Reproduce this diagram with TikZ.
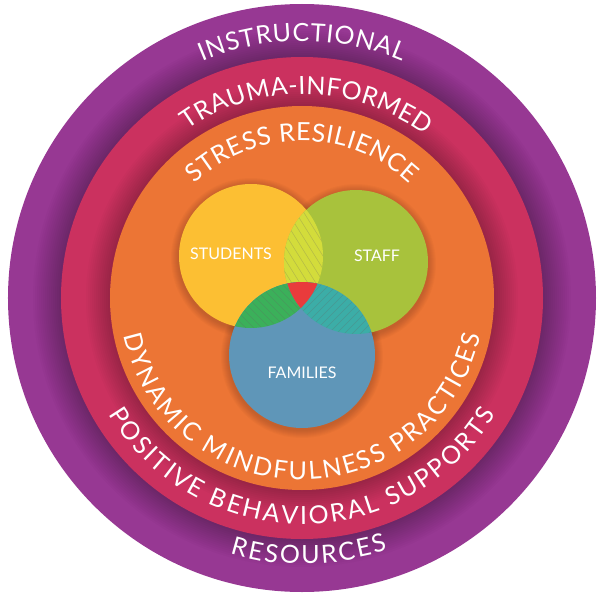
\documentclass[tikz,border=0pt]{standalone}
\usepackage{fontspec}
\setmainfont{Lato}
\newfontfamily\ringfont{Lato}
\definecolor{purpleL}{HTML}{973893}
\definecolor{redR}{HTML}{CB315F}
\definecolor{orangeO}{HTML}{EC7535}
\definecolor{yellowS}{HTML}{FCBF33}
\definecolor{greenT}{HTML}{A8C23C}
\definecolor{blueF}{HTML}{5F96B8}
\definecolor{ygO}{HTML}{D3DC3B}
\definecolor{greenO}{HTML}{3BB05A}
\definecolor{tealO}{HTML}{3CADA7}
\definecolor{redO}{HTML}{E93B3C}
\newcommand\toptext{\ringfont\fontsize{25}{30}\selectfont}
\newdimen\arcW
\newdimen\arcPos
\newdimen\chW
\newdimen\chMid
\newbox\chBox
% #1 name, #2 radius, #3 tracking (pt), #4 1=top -1=bottom, #5 characters
\newcommand\preparc[5]{%
  \global\arcW=0pt
  \foreach \ch in {#5}{\setbox\chBox=\hbox{\toptext\ch}\global\advance\arcW by \wd\chBox\relax\global\advance\arcW by #3pt\relax}%
  \global\arcPos=-0.5\arcW
  \foreach \ch [count=\i] in {#5}{%
    \setbox\chBox=\hbox{\toptext\ch}%
    \chW=\wd\chBox\relax
    \chMid=\dimexpr\arcPos+\chW/2+#3pt/2\relax
    \pgfmathsetmacro\baseang{180-(#4)*90}%
    \pgfmathsetmacro\ang{\baseang-(#4)*(\the\chMid)/#2*57.29578}%
    \pgfmathsetmacro\rot{\ang-\baseang}%
    \global\advance\arcPos by \chW\relax
    \global\advance\arcPos by #3pt\relax
    \expandafter\xdef\csname arc#1a\i\endcsname{\ang}%
    \expandafter\xdef\csname arc#1r\i\endcsname{\rot}%
    \expandafter\global\expandafter\let\csname arc#1c\i\endcsname\ch
    \expandafter\xdef\csname arc#1n\endcsname{\i}%
  }%
}
% #1 name, #2 radius
\newcommand\placearc[2]{%
  \edef\nn{\csname arc#1n\endcsname}%
  \foreach \i in {1,...,\nn}{%
    \edef\aa{\csname arc#1a\i\endcsname}%
    \edef\rr{\csname arc#1r\i\endcsname}%
    \node[ringchar, rotate=\rr, anchor=base] (#1-\i) at (\aa:#2) {\csname arc#1c\i\endcsname};
  }%
}
\begin{document}
\preparc{ins}{257}{0.8}{1}{I,N,S,T,R,U,C,T,I,O,N,A,L}%
\preparc{tra}{204}{0.5}{1}{T,R,A,U,M,A,-,I,N,F,O,R,M,E,D}%
\preparc{str}{157}{0.6}{1}{S,T,R,E,S,S,~,R,E,S,I,L,I,E,N,C,E}%
\preparc{dyn}{182}{2.2}{-1}{D,Y,N,A,M,I,C,~,M,I,N,D,F,U,L,N,E,S,S,~,P,R,A,C,T,I,C,E,S}%
\preparc{pos}{226}{2.3}{-1}{P,O,S,I,T,I,V,E,~,B,E,H,A,V,I,O,R,A,L,~,S,U,P,P,O,R,T,S}%
\preparc{res}{266}{2.2}{-1}{R,E,S,O,U,R,C,E,S}%
\begin{tikzpicture}[x=1pt,y=1pt,
  vlabel/.style={text=white, font=\ringfont\fontsize{16}{18}\selectfont, inner sep=0pt},
  ringchar/.style={text=white, font=\toptext, inner sep=0pt},
  hatch/.style={black!60, opacity=0.3, line width=0.5pt},
  shade/.style={black, opacity=0.018}]
\useasboundingbox (-302,-302) rectangle (298,298);
\coordinate (O) at (0,0);
\coordinate (S) at (-51,42);
\coordinate (T) at (54,36);
\coordinate (F) at (0,-57);
% rings
\fill[purpleL] (O) circle[radius=294];
\foreach \k in {1,...,14} \fill[shade] (O) circle[radius=241+2*\k];
\fill[redR] (O) circle[radius=241];
\foreach \k in {1,...,12} \fill[shade] (O) circle[radius=192+2*\k];
\fill[orangeO] (O) circle[radius=192];
% venn shadows
\foreach \k in {1,...,8} {
  \fill[shade] ([yshift=-2pt]S) circle[radius=72+\k];
  \fill[shade] ([yshift=-2pt]T) circle[radius=72+\k];
  \fill[shade] ([yshift=-2pt]F) circle[radius=73+\k];
}
% venn circles
\fill[yellowS] (S) circle[radius=72];
\fill[greenT] (T) circle[radius=72];
\fill[blueF] (F) circle[radius=73];
% students & staff
\begin{scope}
  \clip (S) circle[radius=72];
  \clip (T) circle[radius=72];
  \fill[ygO] (-150,-150) rectangle (150,150);
  \foreach \a in {-200,-192,...,200} \draw[hatch] ({\a-50},130) -- ({\a+50},-30);
\end{scope}
% students & families
\begin{scope}
  \clip (S) circle[radius=72];
  \clip (F) circle[radius=73];
  \fill[greenO] (-150,-150) rectangle (150,150);
  \foreach \a in {-200,-192,...,200} \draw[hatch] ({\a-60},30) -- ({\a+60},-90);
\end{scope}
% staff & families
\begin{scope}
  \clip (T) circle[radius=72];
  \clip (F) circle[radius=73];
  \fill[tealO] (-150,-150) rectangle (150,150);
  \foreach \a in {-200,-192,...,200} \draw[hatch] ({\a-60},-90) -- ({\a+60},30);
\end{scope}
% all three
\begin{scope}
  \clip (S) circle[radius=72];
  \clip (T) circle[radius=72];
  \clip (F) circle[radius=73];
  \fill[redO] (-150,-150) rectangle (150,150);
\end{scope}
% labels
\node[vlabel] (stu) at (-71,44) {STUDENTS};
\node[vlabel] (sta) at (75,42) {STAFF};
\node[vlabel] (fam) at (0,-75) {FAMILIES};
% ring texts
\placearc{ins}{257}
\begin{scope}[rotate=-1.5]
\placearc{tra}{204}
\end{scope}
\placearc{str}{157}
\placearc{dyn}{182}
\placearc{pos}{226}
\begin{scope}[rotate=1.5]
\placearc{res}{266}
\end{scope}
\end{tikzpicture}
\end{document}
